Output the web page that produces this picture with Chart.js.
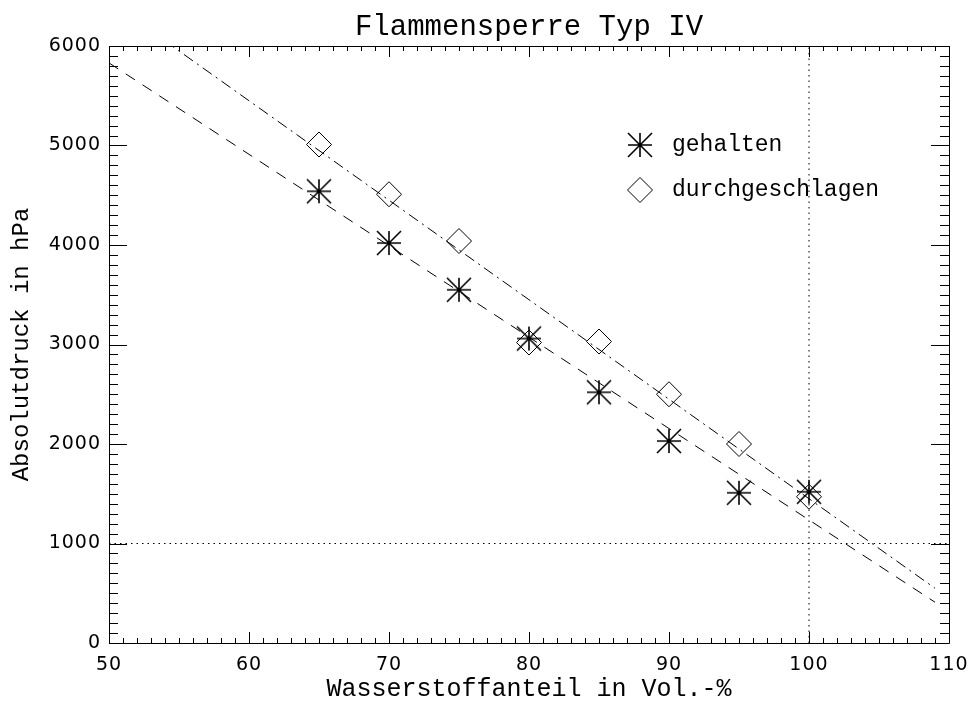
<!DOCTYPE html>
<html><head><meta charset="utf-8">
<script src="https://cdn.jsdelivr.net/npm/chart.js@4.4.1/dist/chart.umd.min.js"></script>
<style>html,body{margin:0;padding:0;background:#fff}#wrap{width:971px;height:702px}</style>
</head><body><div id="wrap"><canvas id="c" width="971" height="702"></canvas></div>
<script>
// ---- data ----
const titleText = 'Flammensperre Typ IV';
const xTitle = 'Wasserstoffanteil in Vol.-%';
const yTitle = 'Absolutdruck in hPa';
const seriesNames = ['gehalten', 'durchgeschlagen'];
const hydrogenShare = [65, 70, 75, 80, 85, 90, 95, 100];
const heldPressure = [4540, 4020, 3550, 3060, 2520, 2030, 1510, 1520];
const flashPressure = [5010, 4510, 4040, 3020, 3030, 2500, 2000, 1470];
const heldFitX = [50, 109];
const heldFitY = [5830, 410];
const flashFitX = [50, 109];
const flashFitY = [6450, 550];
const limitPressure = 1000;
const limitShare = 100;
const xTicks = [50, 60, 70, 80, 90, 100, 110];
const yTicks = [0, 1000, 2000, 3000, 4000, 5000, 6000];
const xMinorStep = 1;
const yMinorStep = 100;

const toPts = (xs, ys) => xs.map((x, i) => ({x: x, y: ys[i]}));

// asterisk marker
function makeAsterisk(r, lw) {
  const s = Math.ceil(2 * r + 4);
  const c = document.createElement('canvas');
  c.width = s; c.height = s;
  const g = c.getContext('2d');
  const m = s / 2;
  g.strokeStyle = '#000'; g.lineWidth = lw;
  g.beginPath();
  g.moveTo(m - r, m); g.lineTo(m + r, m);
  g.moveTo(m, m - r); g.lineTo(m, m + r);
  g.moveTo(m - r, m - r); g.lineTo(m + r, m + r);
  g.moveTo(m - r, m + r); g.lineTo(m + r, m - r);
  g.stroke();
  return c;
}
const asterisk = makeAsterisk(12, 1.6);
const DIAMOND_R = 12.5;

// wider letter spacing for tick labels only
const tickSpacing = {
  id: 'tickSpacing',
  beforeDraw(chart) {
    ['x', 'y'].forEach(id => {
      const s = chart.scales[id];
      if (s && !s._spaced) {
        const orig = s.drawLabels.bind(s);
        s.drawLabels = function (area) {
          const ctx = chart.ctx;
          ctx.save();
          try { ctx.letterSpacing = '1px'; } catch (e) {}
          orig(area);
          ctx.restore();
          try { ctx.letterSpacing = '0px'; } catch (e) {}
        };
        s._spaced = true;
      }
    });
  }
};

const boxTicks = {
  id: 'boxTicks',
  afterDatasetsDraw(chart) {
    const {ctx, chartArea: a, scales: {x, y}} = chart;
    ctx.save();
    ctx.strokeStyle = '#000';
    ctx.lineWidth = 1;
    ctx.beginPath();
    ctx.rect(Math.round(a.left) + 0.5, Math.round(a.top) + 0.5, Math.round(a.right - a.left), Math.round(a.bottom - a.top));
    const xMaj = xTicks[1] - xTicks[0];
    for (let v = x.min; v <= x.max + 1e-9; v += xMinorStep) {
      const px = Math.round(x.getPixelForValue(v)) + 0.5;
      const len = Math.abs(v % xMaj) < 1e-6 ? 11 : 5;
      ctx.moveTo(px, a.bottom); ctx.lineTo(px, a.bottom - len);
      ctx.moveTo(px, a.top); ctx.lineTo(px, a.top + len);
    }
    const yMaj = yTicks[1] - yTicks[0];
    for (let v = y.min; v <= y.max + 1e-9; v += yMinorStep) {
      const py = Math.round(y.getPixelForValue(v)) + 0.5;
      const len = Math.abs(v % yMaj) < 1e-6 ? 18 : 9;
      ctx.moveTo(a.left, py); ctx.lineTo(a.left + len, py);
      ctx.moveTo(a.right, py); ctx.lineTo(a.right - len, py);
    }
    ctx.stroke();
    ctx.restore();
  }
};

const innerLegend = {
  id: 'innerLegend',
  afterDatasetsDraw(chart) {
    const {ctx, chartArea: a} = chart;
    const mx = a.left + 531;
    const rows = [a.top + 99, a.top + 144];
    ctx.save();
    ctx.drawImage(asterisk, mx - asterisk.width / 2, rows[0] - asterisk.height / 2);
    ctx.strokeStyle = '#000'; ctx.lineWidth = 1;
    ctx.beginPath();
    ctx.moveTo(mx - DIAMOND_R, rows[1]); ctx.lineTo(mx, rows[1] - DIAMOND_R);
    ctx.lineTo(mx + DIAMOND_R, rows[1]); ctx.lineTo(mx, rows[1] + DIAMOND_R);
    ctx.closePath(); ctx.stroke();
    ctx.fillStyle = '#000';
    ctx.font = '23px "Liberation Mono", "Courier New", monospace';
    ctx.textBaseline = 'middle'; ctx.textAlign = 'left';
    ctx.fillText(seriesNames[0], mx + 32, rows[0]);
    ctx.fillText(seriesNames[1], mx + 32, rows[1]);
    ctx.restore();
  }
};

const mono = '"Liberation Mono", "Courier New", monospace';
const tickFont = {family: '"DejaVu Sans", sans-serif', size: 19, lineHeight: 1.2};

new Chart(document.getElementById('c'), {
  type: 'scatter',
  data: {
    datasets: [
      {label: 'fit-held', type: 'line', data: toPts(heldFitX, heldFitY), borderColor: '#000', borderWidth: 1, borderDash: [11, 9], pointRadius: 0, fill: false},
      {label: 'fit-flash', type: 'line', data: toPts(flashFitX, flashFitY), borderColor: '#000', borderWidth: 1, borderDash: [11, 5, 2, 5], pointRadius: 0, fill: false},
      {label: 'limit-p', type: 'line', data: toPts([xTicks[0], xTicks[xTicks.length - 1]], [limitPressure, limitPressure]), borderColor: '#000', borderWidth: 1, borderDash: [1.5, 4], pointRadius: 0, fill: false},
      {label: 'limit-x', type: 'line', data: toPts([limitShare, limitShare], [yTicks[0], yTicks[yTicks.length - 1]]), borderColor: '#000', borderWidth: 1, borderDash: [1.5, 4], pointRadius: 0, fill: false},
      {label: seriesNames[1], data: toPts(hydrogenShare, flashPressure), pointStyle: 'rectRot', pointRadius: DIAMOND_R, pointHoverRadius: DIAMOND_R, borderColor: '#000', borderWidth: 1, backgroundColor: 'rgba(0,0,0,0)'},
      {label: seriesNames[0], data: toPts(hydrogenShare, heldPressure), pointStyle: asterisk, pointRadius: 12, borderColor: '#000', backgroundColor: '#000'}
    ]
  },
  options: {
    responsive: false,
    animation: false,
    devicePixelRatio: 1,
    layout: {padding: {left: 0, right: 22, top: 0, bottom: 0}},
    plugins: {
      legend: {display: false},
      tooltip: {enabled: false},
      title: {display: true, text: titleText, fullSize: false, color: '#000',
        font: {family: mono, size: 29, weight: 'normal', lineHeight: 1},
        padding: {top: 13, bottom: 4}}
    },
    scales: {
      x: {
        type: 'linear', min: xTicks[0], max: xTicks[xTicks.length - 1],
        afterBuildTicks: s => { s.ticks = xTicks.map(v => ({value: v})); },
        afterFit: s => { s.height = 59; s.paddingLeft = 0; s.paddingRight = 0; },
        grid: {display: false, drawTicks: false}, border: {display: false},
        ticks: {color: '#000', font: tickFont, padding: 11, autoSkip: false, maxRotation: 0, callback: v => String(v)},
        title: {display: true, text: xTitle, color: '#000', font: {family: mono, size: 25, lineHeight: 1}, padding: {top: 0, bottom: 0}}
      },
      y: {
        type: 'linear', min: yTicks[0], max: yTicks[yTicks.length - 1],
        afterBuildTicks: s => { s.ticks = yTicks.map(v => ({value: v})); },
        afterFit: s => { s.width = 109; s.paddingTop = 0; s.paddingBottom = 0; },
        grid: {display: false, drawTicks: false}, border: {display: false},
        ticks: {color: '#000', font: tickFont, padding: 8, autoSkip: false, callback: v => String(v)},
        title: {display: true, text: yTitle, color: '#000', font: {family: mono, size: 24, lineHeight: 1}, padding: {top: 10, bottom: 0}}
      }
    }
  },
  plugins: [tickSpacing, boxTicks, innerLegend]
});
</script>
</body></html>
